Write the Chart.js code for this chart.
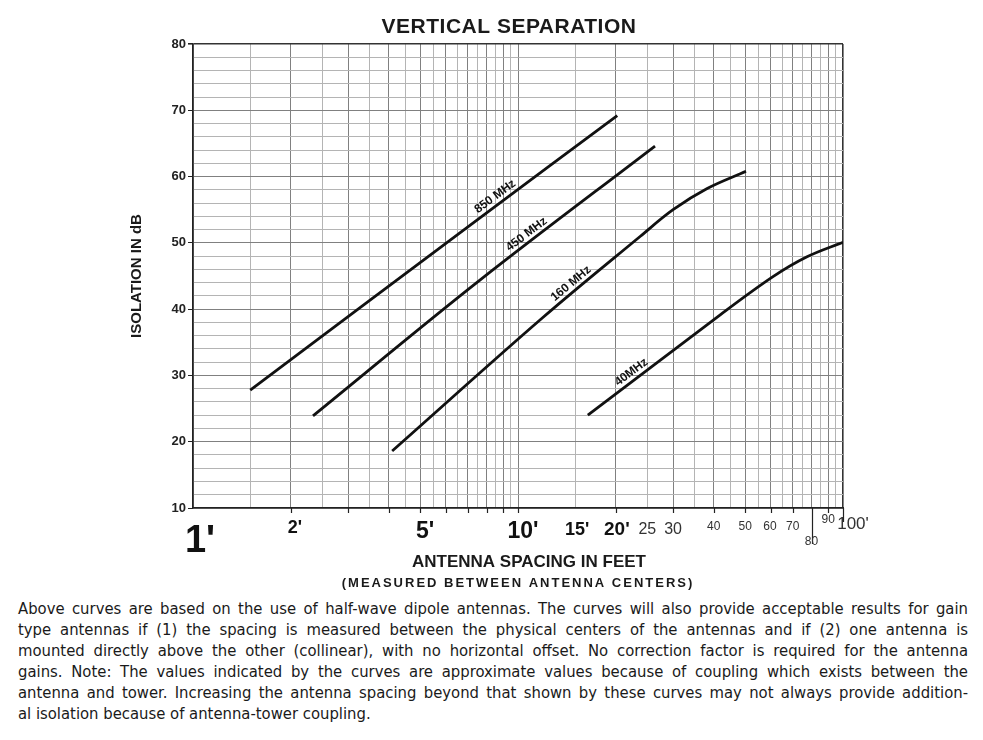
<!DOCTYPE html>
<html><head><meta charset="utf-8">
<script src="https://cdn.jsdelivr.net/npm/chart.js@4.4.1/dist/chart.umd.min.js"></script>
<style>
html,body{margin:0;padding:0;background:#fff;}
#wrap{position:absolute;left:0;top:0;width:983px;height:595px;}
#note{position:absolute;left:18px;top:598px;width:950px;font-family:"DejaVu Sans Condensed","DejaVu Sans",sans-serif;font-stretch:condensed;font-size:16.5px;line-height:21px;color:#1a1a1a;}
#note div{text-align:justify;text-align-last:justify;}
#note div.last{text-align-last:left;}
</style></head>
<body>
<div id="wrap"><canvas id="c"></canvas></div>
<div id="note">
<div>Above curves are based on the use of half-wave dipole antennas. The curves will also provide acceptable results for gain</div>
<div>type antennas if (1) the spacing is measured between the physical centers of the antennas and if (2) one antenna is</div>
<div>mounted directly above the other (collinear), with no horizontal offset. No correction factor is required for the antenna</div>
<div>gains. Note: The values indicated by the curves are approximate values because of coupling which exists between the</div>
<div>antenna and tower. Increasing the antenna spacing beyond that shown by these curves may not always provide addition-</div>
<div class="last">al isolation because of antenna-tower coupling.</div>
</div>
<script>
// ---- data ----
const seriesNames = ['850 MHz', '450 MHz', '160 MHz', '40MHz'];
const spacing850 = [1.5, 7.6, 20.2];
const isolation850 = [27.8, 53.7, 69.2];
const spacing450 = [2.34, 7.6, 26.4];
const isolation450 = [23.9, 44.3, 64.6];
const spacing160 = [4.1, 11.9, 23.8, 30, 38.2, 50.3];
const isolation160 = [18.6, 38.7, 51, 55, 58.2, 60.8];
const spacing40 = [16.4, 41.8, 60.9, 77.5, 100];
const isolation40 = [24, 39.1, 44.9, 47.9, 50.1];

const yTickValues = [10, 20, 30, 40, 50, 60, 70, 80];
const yGridValues = [10, 12, 14, 16, 18, 20, 22, 24, 26, 28, 30, 32, 34, 36, 38, 40, 42, 44, 46, 48,
  50, 52, 54, 56, 58, 60, 62, 64, 66, 68, 70, 72, 74, 76, 78, 80];
const xTickValues = [1, 2, 5, 10, 15, 20, 25, 30, 40, 50, 60, 70, 80, 90, 100];
const xTickLabels = ["1'", "2'", "5'", "10'", "15'", "20'", "25", "30", "40", "50", "60", "70", "80", "90", "100'"];
const xGridValues = [1, 1.5, 2, 2.5, 3, 3.5, 4, 4.5, 5, 5.5, 6, 6.5, 7, 7.5, 8, 8.5, 9, 9.5, 10,
  15, 20, 25, 30, 35, 40, 45, 50, 55, 60, 65, 70, 75, 80, 85, 90, 95, 100];
const xTickMarkValues = [2, 3, 4, 5, 6, 7, 8, 9, 10, 20, 30, 40, 50, 60, 70, 80, 90, 100];

const chartTitle = 'VERTICAL SEPARATION';
const yTitle = 'ISOLATION IN dB';
const xTitle = 'ANTENNA SPACING IN FEET';
const xSubTitle = '(MEASURED BETWEEN ANTENNA CENTERS)';

const seriesX = [spacing850, spacing450, spacing160, spacing40];
const seriesY = [isolation850, isolation450, isolation160, isolation40];

// ---- presentation ----
const labelAt = [8.8, 11.0, 15.1, 23.1];
const FONT = '"Liberation Sans", Arial, sans-serif';
// size, weight, dx, baseline offset below axis
const xTickStyle = [
  [38, 'bold', 7, 44], [18, 'bold', 4, 25], [23, 'bold', 5, 30], [23, 'bold', 5, 30],
  [18, 'bold', 2, 27], [19, 'bold', 1, 27], [16, 'normal', 0, 26], [16, 'normal', 0, 26],
  [12, 'normal', 0, 22], [12, 'normal', 0, 22], [12, 'normal', -1, 22], [12, 'normal', 0, 22],
  [12, 'normal', 0, 37], [12, 'normal', 0, 15], [17, 'normal', 10, 21]
];

const overlay = {
  id: 'overlay',
  afterDatasetsDraw(chart) {
    const {ctx, scales: {x, y}} = chart;
    ctx.save();
    ctx.fillStyle = '#111';
    ctx.font = 'bold 12px ' + FONT;
    ctx.textAlign = 'center';
    ctx.textBaseline = 'bottom';
    seriesNames.forEach((name, i) => {
      const xs = seriesX[i], ys = seriesY[i], v = labelAt[i];
      let k = 0;
      while (k < xs.length - 2 && xs[k + 1] < v) k++;
      const x0 = x.getPixelForValue(xs[k]), y0 = y.getPixelForValue(ys[k]);
      const x1 = x.getPixelForValue(xs[k + 1]), y1 = y.getPixelForValue(ys[k + 1]);
      const px = x.getPixelForValue(v);
      const t = (px - x0) / (x1 - x0);
      const py = y0 + t * (y1 - y0);
      const ang = Math.atan2(y1 - y0, x1 - x0);
      ctx.save();
      ctx.translate(px, py);
      ctx.rotate(ang);
      ctx.fillText(name, 0, -2);
      ctx.restore();
    });
    ctx.restore();
  },
  afterDraw(chart) {
    const {ctx, chartArea: a, scales: {x}} = chart;
    ctx.save();
    ctx.fillStyle = '#1a1a1a';
    ctx.strokeStyle = '#222';
    // title
    ctx.textAlign = 'center';
    ctx.textBaseline = 'alphabetic';
    ctx.font = 'bold 21px ' + FONT;
    if ('letterSpacing' in ctx) ctx.letterSpacing = '0.5px';
    ctx.fillText(chartTitle, (a.left + a.right) / 2 - 9, 33);
    if ('letterSpacing' in ctx) ctx.letterSpacing = '0px';
    // y title
    ctx.save();
    ctx.translate(137, (a.top + a.bottom) / 2);
    ctx.rotate(-Math.PI / 2);
    ctx.font = 'bold 15px ' + FONT;
    ctx.textBaseline = 'middle';
    ctx.fillText(yTitle, 0, 0);
    ctx.restore();
    // x tick marks
    ctx.lineWidth = 1.2;
    xTickMarkValues.forEach(v => {
      const px = Math.round(x.getPixelForValue(v)) + 0.5;
      let len = 5;
      if (v === 80) len = 36;
      if (v === 100) len = 14;
      ctx.beginPath();
      ctx.moveTo(px, a.bottom);
      ctx.lineTo(px, a.bottom + len);
      ctx.stroke();
    });
    // x tick labels
    ctx.textAlign = 'center';
    ctx.textBaseline = 'alphabetic';
    xTickValues.forEach((v, i) => {
      const [size, weight, dx, dy] = xTickStyle[i];
      ctx.font = weight + ' ' + size + 'px ' + FONT;
      ctx.fillStyle = weight === 'bold' ? '#111' : '#333';
      ctx.fillText(xTickLabels[i], x.getPixelForValue(v) + dx, a.bottom + dy);
    });
    // x titles
    ctx.fillStyle = '#1a1a1a';
    ctx.font = 'bold 17px ' + FONT;
    ctx.fillText(xTitle, 529, 567);
    ctx.font = 'bold 13px ' + FONT;
    if ('letterSpacing' in ctx) ctx.letterSpacing = '2px';
    ctx.fillText(xSubTitle, 518, 587);
    if ('letterSpacing' in ctx) ctx.letterSpacing = '0px';
    ctx.restore();
  }
};

new Chart(document.getElementById('c'), {
  type: 'scatter',
  data: {
    datasets: seriesNames.map((n, i) => ({
      label: n,
      data: seriesX[i].map((v, j) => ({x: v, y: seriesY[i][j]})),
      showLine: true,
      borderColor: '#111',
      backgroundColor: '#111',
      borderWidth: 2.8,
      pointRadius: 0,
      fill: false,
      tension: 0.35
    }))
  },
  options: {
    responsive: true,
    maintainAspectRatio: false,
    animation: false,
    devicePixelRatio: 1,
    layout: {padding: {top: 44, right: 140, left: 0, bottom: 0}},
    plugins: {legend: {display: false}, tooltip: {enabled: false}, title: {display: false}},
    scales: {
      x: {
        type: 'logarithmic', min: 1, max: 100,
        afterFit(s) { s.height = 87; },
        afterBuildTicks(s) { s.ticks = xGridValues.map(v => ({value: v})); },
        ticks: {display: false},
        grid: {
          drawTicks: false,
          color: c => {
            const v = c.tick.value;
            if (v === 100) return '#333';
            if ((v <= 10 && Number.isInteger(v)) || v % 10 === 0) return '#808080';
            return '#b4b4b4';
          },
          lineWidth: c => c.tick.value === 100 ? 1.6 : 1
        },
        border: {display: true, color: '#222', width: 1.6}
      },
      y: {
        type: 'linear', min: 10, max: 80,
        afterFit(s) { s.width = 193; },
        afterBuildTicks(s) { s.ticks = yGridValues.map(v => ({value: v})); },
        ticks: {
          autoSkip: false, padding: 2, color: '#222',
          font: {family: FONT, size: 13, weight: 'bold'},
          callback: v => yTickValues.includes(v) ? String(v) : ''
        },
        grid: {
          tickLength: 5,
          color: c => c.tick.value === 80 ? '#333' : (c.tick.value % 10 === 0 ? '#808080' : '#b4b4b4'),
          lineWidth: c => c.tick.value === 80 ? 1.6 : 1,
          tickColor: c => c.tick.value % 10 === 0 ? '#222' : 'rgba(0,0,0,0)'
        },
        border: {display: true, color: '#222', width: 1.6}
      }
    }
  },
  plugins: [overlay]
});
</script>
</body></html>
